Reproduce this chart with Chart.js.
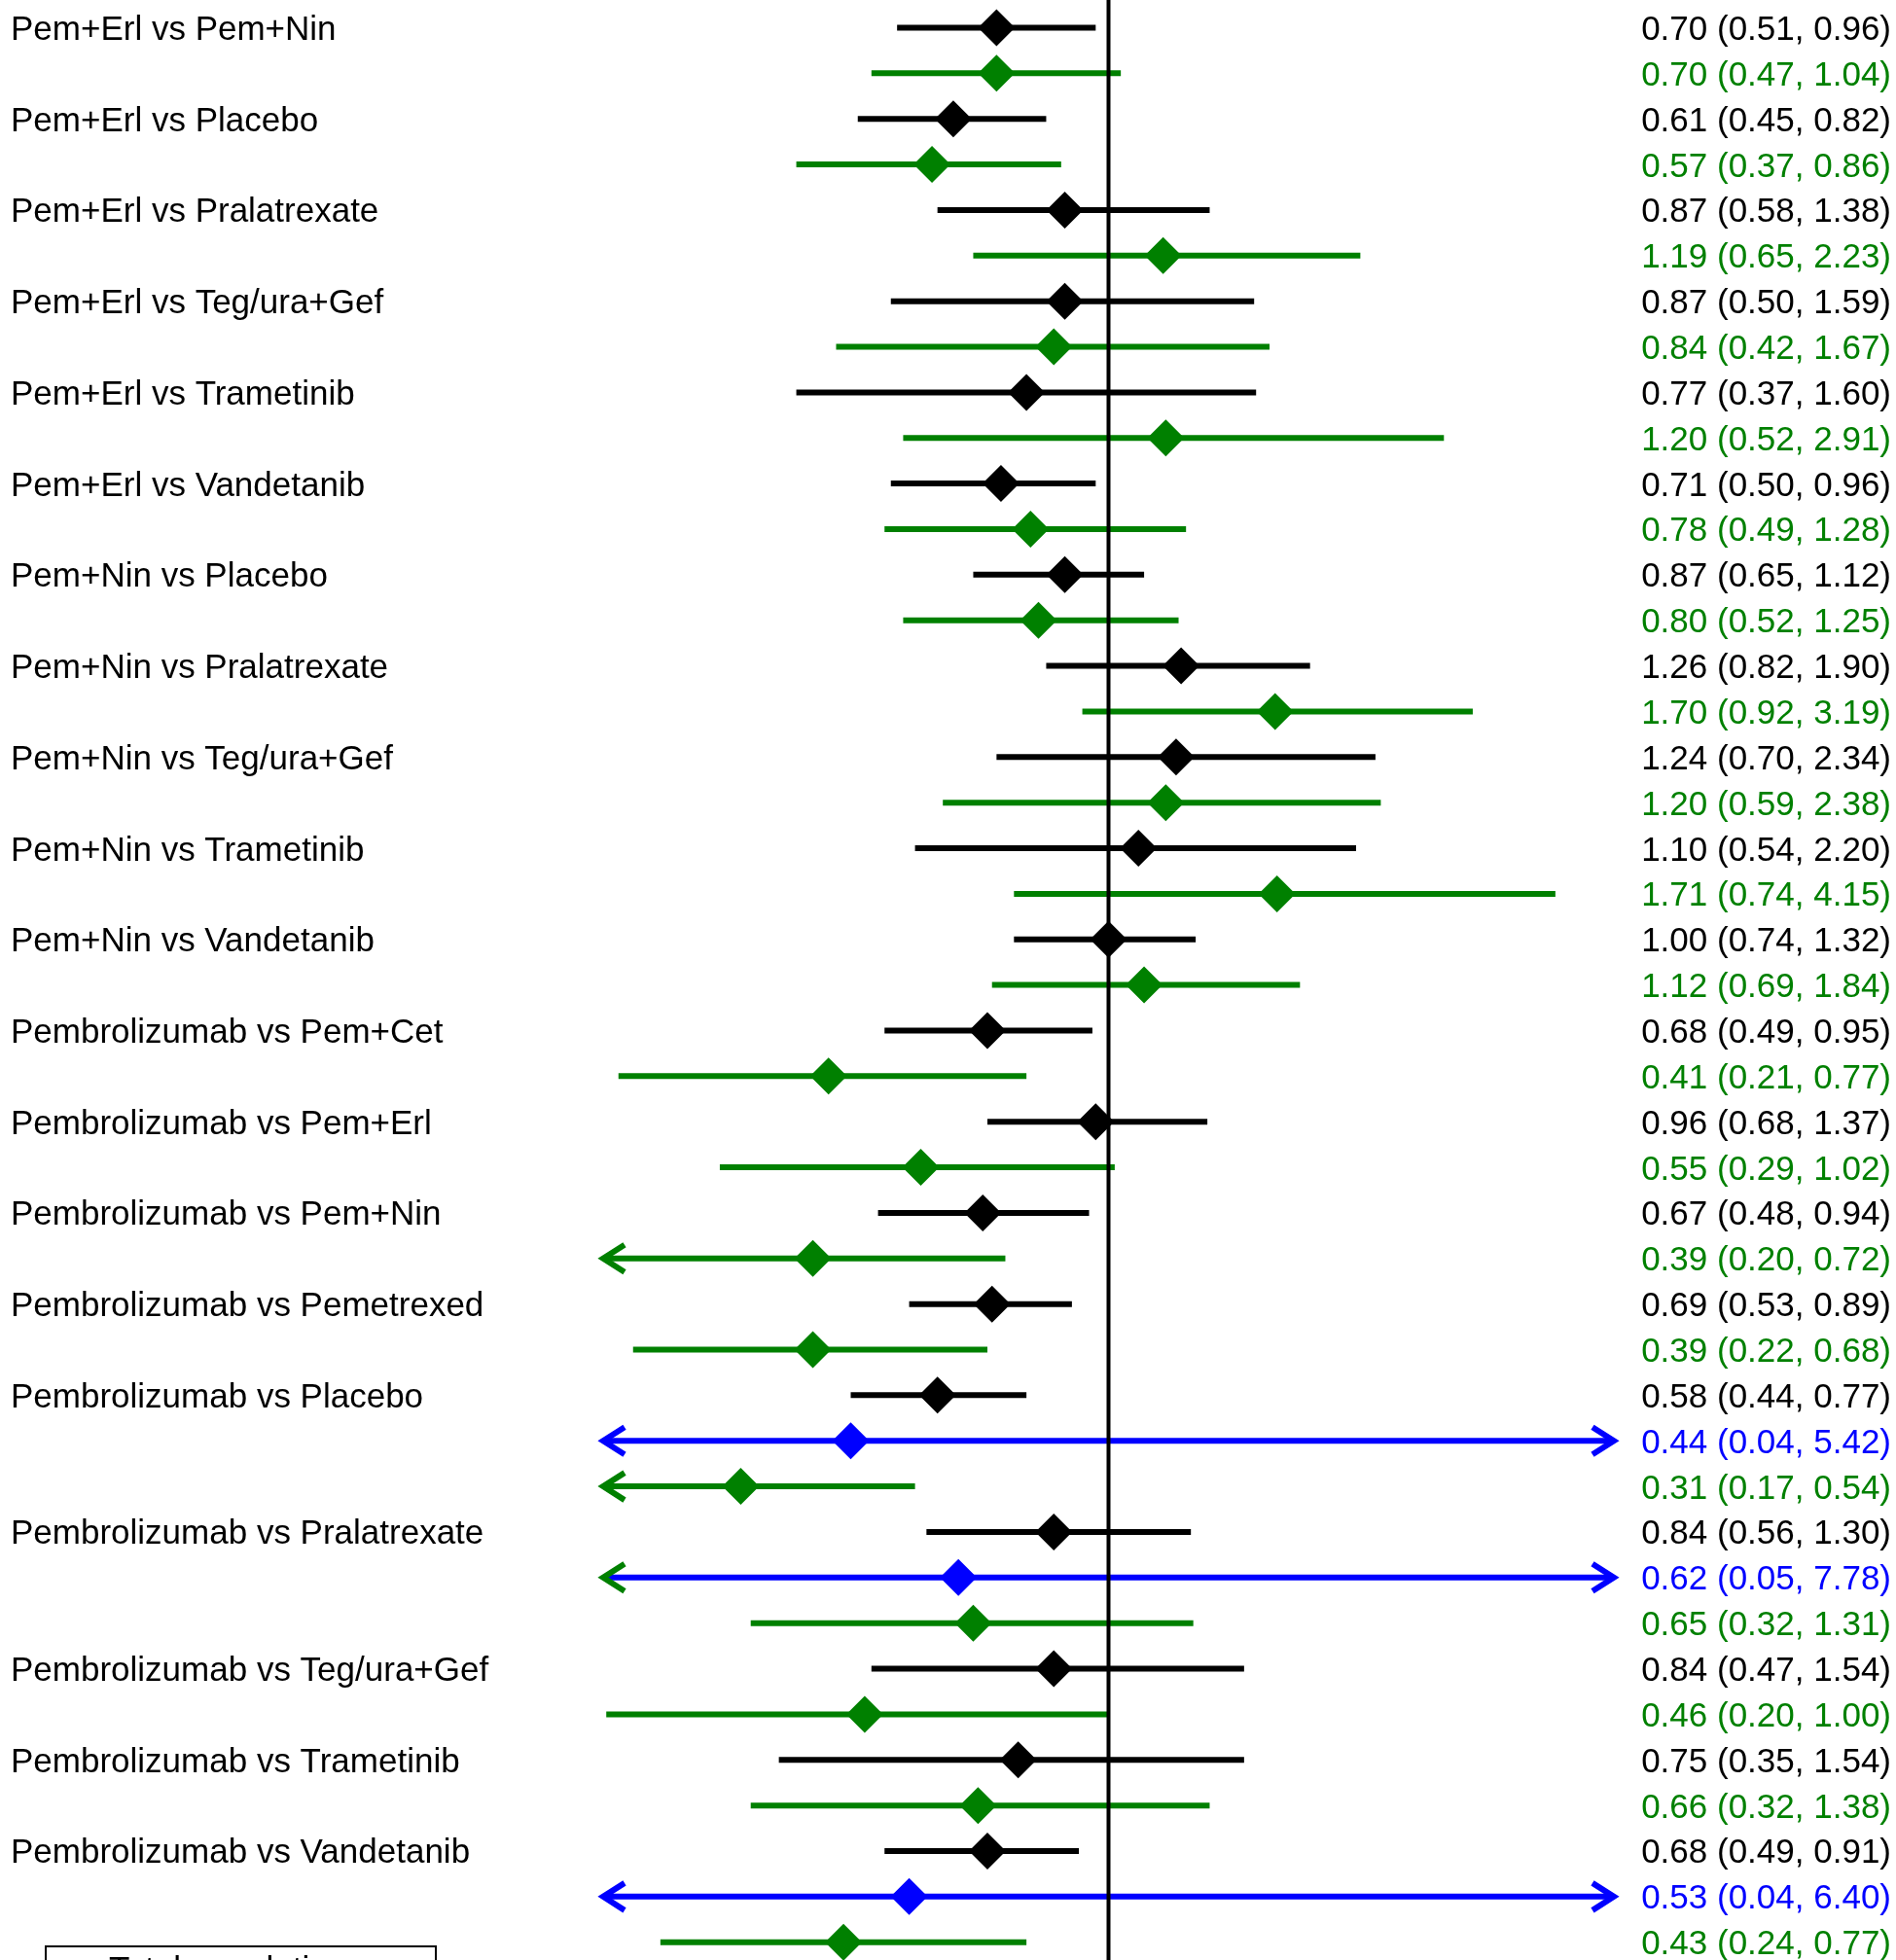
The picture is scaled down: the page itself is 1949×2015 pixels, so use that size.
<!DOCTYPE html>
<html>
<head>
<meta charset="utf-8">
<title>Forest plot</title>
<script src="https://cdn.jsdelivr.net/npm/chart.js@4.4.0/dist/chart.umd.min.js"></script>
<style>
  html, body { margin: 0; padding: 0; background: #fff; }
  #wrap { width: 1949px; height: 2015px; overflow: hidden; }
</style>
</head>
<body>
<div id="wrap"><canvas id="forest" width="1949" height="2015"></canvas></div>
<script>
// comparisons, top to bottom
const comparisons = [
    "Pem+Erl vs Pem+Nin", "Pem+Erl vs Placebo", "Pem+Erl vs Pralatrexate",
    "Pem+Erl vs Teg/ura+Gef", "Pem+Erl vs Trametinib", "Pem+Erl vs Vandetanib",
    "Pem+Nin vs Placebo", "Pem+Nin vs Pralatrexate", "Pem+Nin vs Teg/ura+Gef",
    "Pem+Nin vs Trametinib", "Pem+Nin vs Vandetanib", "Pembrolizumab vs Pem+Cet",
    "Pembrolizumab vs Pem+Erl", "Pembrolizumab vs Pem+Nin", "Pembrolizumab vs Pemetrexed",
    "Pembrolizumab vs Placebo", "Pembrolizumab vs Pralatrexate", "Pembrolizumab vs Teg/ura+Gef",
    "Pembrolizumab vs Trametinib", "Pembrolizumab vs Vandetanib"
];

// black series (first line of each comparison)
const blackEst = [0.70, 0.61, 0.87, 0.87, 0.77, 0.71, 0.87, 1.26, 1.24, 1.10, 1.00, 0.68, 0.96, 0.67, 0.69, 0.58, 0.84, 0.84, 0.75, 0.68];
const blackLo  = [0.51, 0.45, 0.58, 0.50, 0.37, 0.50, 0.65, 0.82, 0.70, 0.54, 0.74, 0.49, 0.68, 0.48, 0.53, 0.44, 0.56, 0.47, 0.35, 0.49];
const blackHi  = [0.96, 0.82, 1.38, 1.59, 1.60, 0.96, 1.12, 1.90, 2.34, 2.20, 1.32, 0.95, 1.37, 0.94, 0.89, 0.77, 1.30, 1.54, 1.54, 0.91];

// green series (last line of each comparison)
const greenEst = [0.70, 0.57, 1.19, 0.84, 1.20, 0.78, 0.80, 1.70, 1.20, 1.71, 1.12, 0.41, 0.55, 0.39, 0.39, 0.31, 0.65, 0.46, 0.66, 0.43];
const greenLo  = [0.47, 0.37, 0.65, 0.42, 0.52, 0.49, 0.52, 0.92, 0.59, 0.74, 0.69, 0.21, 0.29, 0.196, 0.22, 0.17, 0.32, 0.202, 0.32, 0.24];
const greenHi  = [1.04, 0.86, 2.23, 1.67, 2.91, 1.28, 1.25, 3.19, 2.38, 4.15, 1.84, 0.77, 1.02, 0.72, 0.68, 0.54, 1.31, 1.00, 1.38, 0.77];

// blue series, only for some comparisons (index into comparisons)
const blueIdx = [15, 16, 19];
const blueEst = [0.44, 0.62, 0.53];
const blueLo  = [0.04, 0.05, 0.04];
const blueHi  = [5.42, 7.78, 6.40];

const xMin = 0.2, xMax = 5;
const colours = { black: "#000000", blue: "#0000ff", green: "#008000" };
// in the original the left arrow head of this blue line came out green
const leftHeadOverride = { "Pembrolizumab vs Pralatrexate": "#008000" };
const font = "35px 'Liberation Sans', Arial, sans-serif";

// one row per drawn line, with its slot (line position)
const rows = [];
let slot = 0;
comparisons.forEach((name, i) => {
    rows.push({ name, series: "black", slot: slot++, est: blackEst[i], lo: blackLo[i], hi: blackHi[i], first: true });
    const b = blueIdx.indexOf(i);
    if (b >= 0) rows.push({ name, series: "blue", slot: slot++, est: blueEst[b], lo: blueLo[b], hi: blueHi[b] });
    rows.push({ name, series: "green", slot: slot++, est: greenEst[i], lo: greenLo[i], hi: greenHi[i] });
});

function pointsOf(series) {
    return rows.filter(r => r.series === series).map(r => ({ x: r.est, y: r.slot }));
}

function arrowHead(ctx, x, y, dir, colour) {
    ctx.strokeStyle = colour;
    ctx.beginPath();
    ctx.moveTo(x - dir * 22, y - 14);
    ctx.lineTo(x, y);
    ctx.lineTo(x - dir * 22, y + 14);
    ctx.stroke();
}

const forestPlugin = {
    id: 'forest',
    beforeDatasetsDraw(chart) {
        const ctx = chart.ctx;
        const xs = chart.scales.x, ys = chart.scales.y;
        ctx.save();
        ctx.lineWidth = 6;
        ctx.lineCap = 'butt';
        ctx.lineJoin = 'miter';
        rows.forEach(r => {
            const py = ys.getPixelForValue(r.slot);
            const x0 = xs.getPixelForValue(Math.max(r.lo, xMin));
            const x1 = xs.getPixelForValue(Math.min(r.hi, xMax));
            ctx.strokeStyle = colours[r.series];
            ctx.beginPath();
            ctx.moveTo(x0, py);
            ctx.lineTo(x1, py);
            ctx.stroke();
            if (r.lo < xMin) {
                const c = (r.series === "blue" && leftHeadOverride[r.name]) || colours[r.series];
                arrowHead(ctx, x0, py, -1, c);
            }
            if (r.hi > xMax) arrowHead(ctx, x1, py, 1, colours[r.series]);
        });
        // line of no effect
        const xRef = xs.getPixelForValue(1);
        ctx.strokeStyle = "#000";
        ctx.lineWidth = 4;
        ctx.beginPath();
        ctx.moveTo(xRef, 0);
        ctx.lineTo(xRef, chart.height);
        ctx.stroke();
        ctx.restore();
    },
    afterDraw(chart) {
        const ctx = chart.ctx;
        const ys = chart.scales.y;
        ctx.save();
        ctx.font = font;
        ctx.textBaseline = 'alphabetic';
        rows.forEach(r => {
            const base = ys.getPixelForValue(r.slot) + 12.5;
            if (r.first) {
                ctx.fillStyle = "#000";
                ctx.textAlign = 'left';
                ctx.fillText(r.name, 11, base);
            }
            ctx.fillStyle = colours[r.series];
            ctx.textAlign = 'right';
            ctx.fillText(`${r.est.toFixed(2)} (${r.lo.toFixed(2)}, ${r.hi.toFixed(2)})`, 1944, base);
        });
        // legend box, cut off at the bottom edge
        ctx.strokeStyle = "#000";
        ctx.lineWidth = 2;
        ctx.strokeRect(47, 2001, 401, 120);
        ctx.fillStyle = "#000";
        ctx.textAlign = 'left';
        ctx.fillText("Total population", 112, 2036);
        ctx.restore();
    }
};

const yTop = -0.608, yBottom = 42.39;

new Chart(document.getElementById('forest').getContext('2d'), {
    type: 'scatter',
    data: {
        datasets: ["black", "blue", "green"].map(s => ({
            label: s,
            data: pointsOf(s),
            pointStyle: 'rectRot',
            pointRadius: 19,
            pointHoverRadius: 19,
            backgroundColor: colours[s],
            borderColor: colours[s],
            borderWidth: 0,
            clip: false
        }))
    },
    plugins: [forestPlugin],
    options: {
        responsive: false,
        animation: false,
        layout: { autoPadding: false, padding: { left: 620, right: 290, top: 0, bottom: 0 } },
        plugins: {
            legend: { display: false },
            tooltip: { enabled: false }
        },
        scales: {
            x: { type: 'logarithmic', min: xMin, max: xMax, display: false },
            y: { type: 'linear', min: yTop, max: yBottom, reverse: true, display: false }
        }
    }
});
</script>
</body>
</html>
